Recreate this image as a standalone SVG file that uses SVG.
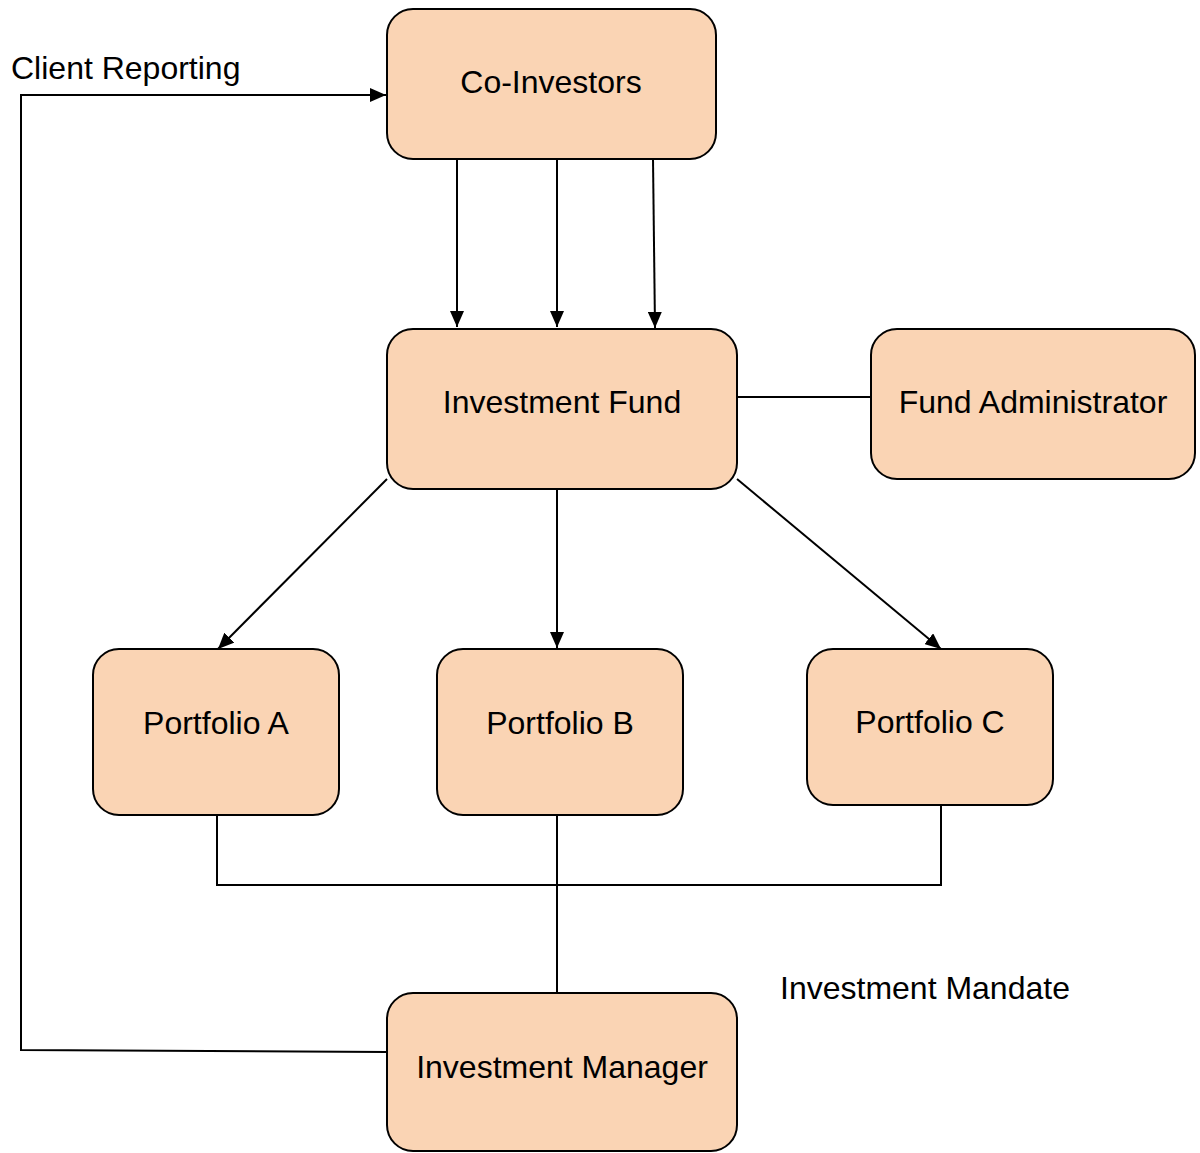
<svg xmlns="http://www.w3.org/2000/svg" width="1200" height="1153" viewBox="0 0 1200 1153">
<style>
.box{fill:#FAD4B4;stroke:#000;stroke-width:2}
.lbl{font-family:"Liberation Sans",Arial,sans-serif;font-size:32px;fill:#000;text-anchor:middle}
.free{font-family:"Liberation Sans",Arial,sans-serif;font-size:32px;fill:#000}
.c{fill:none;stroke:#000;stroke-width:2}
</style>
<defs>
<marker id="ah" markerWidth="16" markerHeight="14" refX="16" refY="7" orient="auto" markerUnits="userSpaceOnUse">
<path d="M0,0 L16,7 L0,14 Z" fill="#000"/>
</marker>
</defs>
<rect width="1200" height="1153" fill="#fff"/>
<g id="connectors">
<line class="c" x1="457" y1="159" x2="457" y2="327" marker-end="url(#ah)"/>
<line class="c" x1="557" y1="159" x2="557" y2="327" marker-end="url(#ah)"/>
<line class="c" x1="653" y1="159" x2="655" y2="328" marker-end="url(#ah)"/>
<line class="c" x1="737" y1="397" x2="871" y2="397"/>
<line class="c" x1="387" y1="479" x2="218" y2="649" marker-end="url(#ah)"/>
<line class="c" x1="557" y1="489" x2="557" y2="648" marker-end="url(#ah)"/>
<line class="c" x1="737" y1="479" x2="941" y2="649" marker-end="url(#ah)"/>
<polyline class="c" points="217,815 217,885 941,885 941,805"/>
<line class="c" x1="557" y1="815" x2="557" y2="993"/>
<polyline class="c" points="387,1052 21,1050 21,95 386,95" marker-end="url(#ah)"/>
</g>
<g id="co-investors"><rect class="box" x="387" y="9" width="329" height="150" rx="26"/><text class="lbl" x="551" y="93">Co-Investors</text></g>
<g id="investment-fund"><rect class="box" x="387" y="329" width="350" height="160" rx="26"/><text class="lbl" x="562" y="413">Investment Fund</text></g>
<g id="fund-administrator"><rect class="box" x="871" y="329" width="324" height="150" rx="26"/><text class="lbl" x="1033" y="413">Fund Administrator</text></g>
<g id="portfolio-a"><rect class="box" x="93" y="649" width="246" height="166" rx="26"/><text class="lbl" x="216" y="734">Portfolio A</text></g>
<g id="portfolio-b"><rect class="box" x="437" y="649" width="246" height="166" rx="26"/><text class="lbl" x="560" y="734">Portfolio B</text></g>
<g id="portfolio-c"><rect class="box" x="807" y="649" width="246" height="156" rx="26"/><text class="lbl" x="930" y="733">Portfolio C</text></g>
<g id="investment-manager"><rect class="box" x="387" y="993" width="350" height="158" rx="26"/><text class="lbl" x="562" y="1078">Investment Manager</text></g>
<g id="labels">
<text class="free" x="11" y="79">Client Reporting</text>
<text class="free" x="780" y="999">Investment Mandate</text>
</g>
</svg>
